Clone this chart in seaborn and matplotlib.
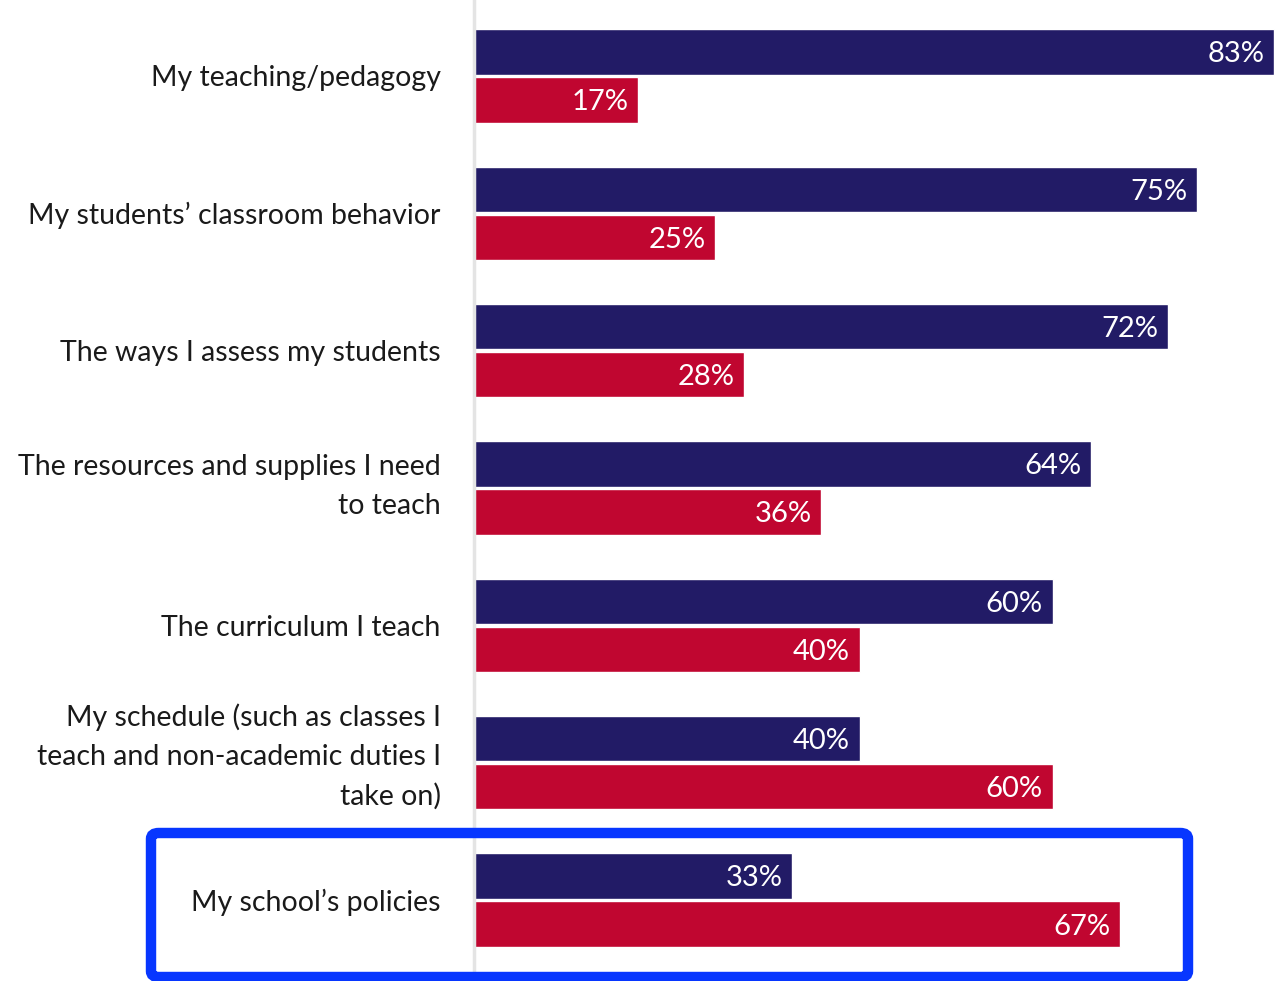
import pandas as pd
import matplotlib.pyplot as plt
import matplotlib.transforms as mtransforms
import seaborn as sns
from matplotlib.patches import FancyBboxPatch

# datos
categorias = [
    "My teaching/pedagogy",
    "My students\u2019 classroom behavior",
    "The ways I assess my students",
    "The resources and supplies I need\nto teach",
    "The curriculum I teach",
    "My schedule (such as classes I\nteach and non-academic duties I\ntake on)",
    "My school\u2019s policies",
]
con_influencia = [83, 75, 72, 64, 60, 40, 33]
sin_influencia = [17, 25, 28, 36, 40, 60, 67]
series = ["Influence", "No influence"]
colores = ["#221b66", "#c00630"]

df = pd.DataFrame({
    "Area": categorias * 2,
    "Serie": [series[0]] * len(categorias) + [series[1]] * len(categorias),
    "Pct": con_influencia + sin_influencia,
})

sns.set_style("white")
plt.rcParams["font.family"] = ["Lato", "DejaVu Sans"]

fig = plt.figure(figsize=(12.86, 9.81), dpi=100)
ax = fig.add_axes([474 / 1286, 0, 812 / 1286, 1])

sns.barplot(data=df, y="Area", x="Pct", hue="Serie", palette=colores,
            saturation=1, orient="y", width=0.7, gap=0.06,
            edgecolor="white", linewidth=1, legend=False, ax=ax)

ax.set_xlim(0, 84.2)
ax.set_ylim(6.59, -0.553)
ax.set_xlabel("")
ax.set_ylabel("")
ax.set_xticks([])
for s in ["top", "right", "bottom"]:
    ax.spines[s].set_visible(False)
ax.spines["left"].set_color("#e4e4e4")
ax.spines["left"].set_linewidth(2.5)
ax.tick_params(axis="y", length=4, color="#e4e4e4", pad=20, labelsize=20.5,
               labelcolor="#1a1a1a")
for lbl in ax.get_yticklabels():
    lbl.set_linespacing(1.6)
    n = lbl.get_text().count("\n")
    if n:
        # las etiquetas de varias lineas suben un poco en el original
        desp = mtransforms.ScaledTranslation(0, (5 + 5 * n) / 100, fig.dpi_scale_trans)
        lbl.set_transform(lbl.get_transform() + desp)

# etiquetas de valor dentro de cada barra
for cont in ax.containers:
    for bar in cont:
        w = bar.get_width()
        ax.annotate(f"{w:.0f}%", (w, bar.get_y() + bar.get_height() / 2),
                    xytext=(-7, 0), textcoords="offset points",
                    ha="right", va="center_baseline", color="white",
                    fontsize=21)

# recuadro azul de la ultima categoria
W, H = 1286, 981
caja = FancyBboxPatch((151 / W, (H - 977) / H), (1188 - 151) / W, (977 - 833) / H,
                      boxstyle="round,pad=0,rounding_size=0.006",
                      transform=fig.transFigure, fill=False,
                      edgecolor="#0736ff", linewidth=7.5, clip_on=False)
fig.patches.append(caja)

fig.savefig("out.png", dpi=100)
